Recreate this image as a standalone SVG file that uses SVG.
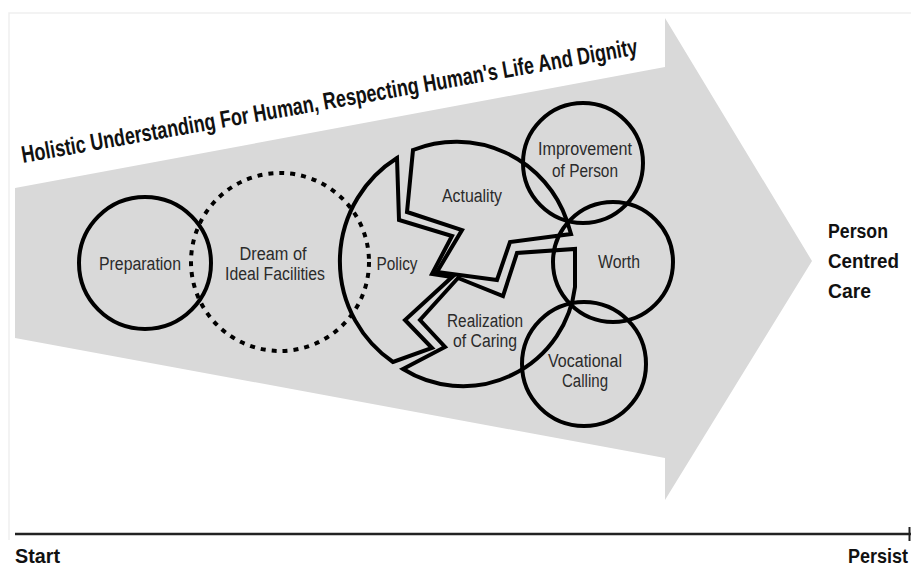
<svg xmlns="http://www.w3.org/2000/svg" width="911" height="566" viewBox="0 0 911 566">
  <style>
    .lbl { font-family: "Liberation Sans", Arial, sans-serif; font-size: 18px; fill: #2b2b2b; text-anchor: middle; }
    .bold { font-family: "Liberation Sans", Arial, sans-serif; font-weight: bold; fill: #111; }
    .ring { fill: none; stroke: #000; stroke-width: 4; }
    .piece { fill: none; stroke: #000; stroke-width: 4; stroke-linejoin: miter; stroke-miterlimit: 10; }
    .dots { fill: none; stroke: #000; stroke-width: 4; stroke-dasharray: 5 6; }
  </style>
  <rect x="0" y="0" width="911" height="566" fill="#ffffff"/>
  <path d="M9 540 V13 H911" fill="none" stroke="#efefef" stroke-width="1.5"/>

  <g id="arrow">
    <polygon points="15,188 665,67 665,18 812,261 665,500 665,458 15,338" fill="#d9d9d9"/>
    <text class="bold" font-size="24" transform="translate(23,163) rotate(-10)" textLength="625" lengthAdjust="spacingAndGlyphs">Holistic Understanding For Human, Respecting Human's Life And Dignity</text>
  </g>

  <g id="preparation">
    <circle class="ring" cx="145" cy="263" r="66"/>
    <text class="lbl" x="140" y="270" textLength="82" lengthAdjust="spacingAndGlyphs">Preparation</text>
  </g>

  <g id="dream">
    <circle class="dots" cx="280" cy="262" r="89"/>
    <text class="lbl" x="273" y="260" textLength="67" lengthAdjust="spacingAndGlyphs">Dream of</text>
    <text class="lbl" x="275" y="280" textLength="100" lengthAdjust="spacingAndGlyphs">Ideal Facilities</text>
  </g>

  <g id="policy">
    <path class="piece" d="M397,158 L399,220 L452,236 L432,274 L452,277 L405,320 L432,348 L393,362 A122 122 0 0 1 397,158 Z"/>
    <text class="lbl" x="397" y="270" textLength="41" lengthAdjust="spacingAndGlyphs">Policy</text>
  </g>

  <g id="actuality">
    <path class="piece" d="M413,150 A117 117 0 0 1 567,221 L571,234 L510,242 L497,280 L437,272 L462,230 L407,212 Z"/>
    <text class="lbl" x="472" y="202" textLength="60" lengthAdjust="spacingAndGlyphs">Actuality</text>
  </g>

  <g id="realization">
    <path class="piece" d="M403,369 L445,347 L420,320 L458,278 L503,296 L517,253 L575,249 L575,287 A113 113 0 0 1 403,369 Z"/>
    <text class="lbl" x="485" y="327" textLength="76" lengthAdjust="spacingAndGlyphs">Realization</text>
    <text class="lbl" x="485" y="347" textLength="64" lengthAdjust="spacingAndGlyphs">of Caring</text>
  </g>

  <g id="improvement">
    <circle class="ring" cx="583" cy="163" r="60"/>
    <text class="lbl" x="585" y="155" textLength="94" lengthAdjust="spacingAndGlyphs">Improvement</text>
    <text class="lbl" x="585" y="177" textLength="66" lengthAdjust="spacingAndGlyphs">of Person</text>
  </g>

  <g id="worth">
    <circle class="ring" cx="613" cy="262" r="60"/>
    <text class="lbl" x="619" y="268" textLength="42" lengthAdjust="spacingAndGlyphs">Worth</text>
  </g>

  <g id="vocational">
    <circle class="ring" cx="584" cy="364" r="62"/>
    <text class="lbl" x="585" y="367" textLength="74" lengthAdjust="spacingAndGlyphs">Vocational</text>
    <text class="lbl" x="585" y="387" textLength="46" lengthAdjust="spacingAndGlyphs">Calling</text>
  </g>

  <g id="person-centred-care">
    <text class="bold" font-size="20" x="828" y="238" textLength="60" lengthAdjust="spacingAndGlyphs">Person</text>
    <text class="bold" font-size="20" x="828" y="268" textLength="71" lengthAdjust="spacingAndGlyphs">Centred</text>
    <text class="bold" font-size="20" x="828" y="298" textLength="43" lengthAdjust="spacingAndGlyphs">Care</text>
  </g>

  <g id="connectors">
    <line x1="15" y1="534" x2="911" y2="534" stroke="#222" stroke-width="2.5"/>
    <line x1="909.5" y1="527" x2="909.5" y2="541" stroke="#222" stroke-width="2"/>
  </g>

  <g id="timeline-labels">
    <text class="bold" font-size="21" x="15" y="563" textLength="45" lengthAdjust="spacingAndGlyphs">Start</text>
    <text class="bold" font-size="21" x="848" y="563" textLength="60" lengthAdjust="spacingAndGlyphs">Persist</text>
  </g>
</svg>
